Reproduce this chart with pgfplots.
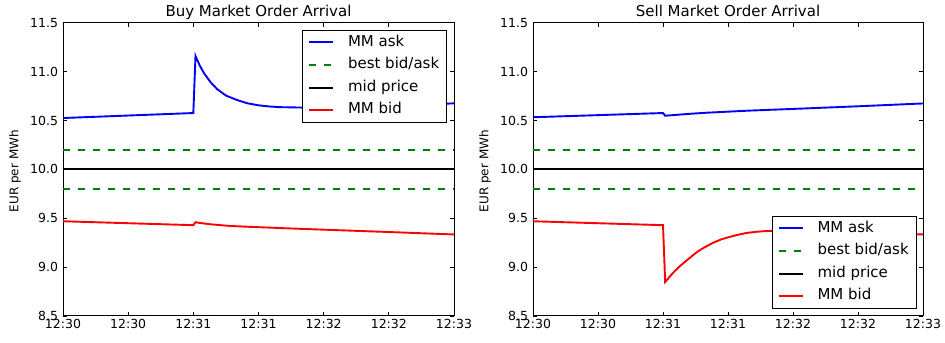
\documentclass[border=0pt]{standalone}
\usepackage{pgfplots}
\pgfplotsset{compat=1.18}
\usepackage{fontspec}
\setmainfont{DejaVu Sans}
\definecolor{mplblue}{rgb}{0,0,1}
\definecolor{mplgreen}{rgb}{0,0.5,0}
\definecolor{mplred}{rgb}{1,0,0}
\begin{document}
\begin{tikzpicture}
\path[use as bounding box] (0,0) rectangle (945bp,343bp);
\pgfplotsset{
  ln/.style={line width=1.9bp},
  myaxis/.style={
    scale only axis, width=391bp, height=293.3bp, anchor=south west,
    xmin=0, xmax=180, ymin=8.5, ymax=11.5,
    xtick={0,30,...,180},
    xticklabels={12:30,12:30,12:31,12:31,12:32,12:32,12:33},
    ytick={8.5,9,9.5,10,10.5,11,11.5},
    /pgf/number format/fixed,
    /pgf/number format/fixed zerofill,
    /pgf/number format/precision=1,
    /pgf/number format/assume math mode=true,
    tick align=inside, major tick length=4bp,
    tick style={black, line width=0.8bp},
    axis line style={line width=1bp},
    ticklabel style={font=\fontsize{12.5bp}{14bp}\selectfont},
    yticklabel style={xshift=-1.5bp},
    title style={font=\fontsize{15bp}{17bp}\selectfont, at={(axis description cs:0.5,1)}, anchor=base},
    legend cell align=left,
    legend style={font=\fontsize{15bp}{17bp}\selectfont, draw=black, line width=1bp, fill=white,
      inner xsep=5.3bp, inner ysep=3bp, row sep=4.1bp,
      nodes={inner sep=2bp, text height=11bp, text depth=3.5bp}},
    legend image code/.code={\draw[##1] (0bp,0bp) -- (24bp,0bp); \path[draw=none] (24bp,0bp) -- (37bp,0bp);},
    clip=false,
  }
}
\begin{axis}[myaxis, at={(63bp,27bp)}, title={Buy Market Order Arrival},
  legend style={at={(1,1)}, anchor=north east, xshift=-7bp, yshift=-7bp}]
\addplot[mplblue, ln] coordinates {
(0,10.525) (60,10.576) (61,11.16) (63,11.06) (65,10.98) (68,10.89) (71,10.82)
(75,10.755) (80,10.71) (85,10.675) (90,10.655) (95,10.643) (100,10.636)
(110,10.632) (120,10.634) (135,10.641) (150,10.651) (165,10.662) (180,10.675)};
\addlegendentry{MM ask}
\addplot[mplgreen, ln, dash pattern=on 7bp off 8bp] coordinates {(0,10.2) (180,10.2)};
\addlegendentry{best bid/ask}
\addplot[black, ln] coordinates {(0,10.0) (180,10.0)};
\addlegendentry{mid price}
\addplot[mplred, ln] coordinates {
(0,9.469) (60,9.429) (61,9.459) (63,9.452) (65,9.446) (68,9.438) (72,9.430)
(77,9.421) (85,9.413) (95,9.404) (110,9.391) (130,9.375) (150,9.359) (180,9.334)};
\addlegendentry{MM bid}
\addplot[mplgreen, ln, dash pattern=on 7bp off 8bp, forget plot] coordinates {(0,9.8) (180,9.8)};
\node[rotate=90, anchor=center, inner sep=0pt, font=\fontsize{12bp}{14bp}\selectfont] at (rel axis cs:-0.1228,0.494) {EUR per MWh};
\end{axis}
\begin{axis}[myaxis, at={(533bp,27bp)}, width=390bp, title={Sell Market Order Arrival},
  legend style={at={(1,0)}, anchor=south east, xshift=-6.5bp, yshift=7bp}]
\addplot[mplblue, ln] coordinates {
(0,10.533) (60,10.576) (61,10.548) (63,10.552) (66,10.557) (70,10.564) (75,10.572)
(80,10.579) (90,10.590) (100,10.601) (120,10.618) (150,10.645) (180,10.674)};
\addlegendentry{MM ask}
\addplot[mplgreen, ln, dash pattern=on 7bp off 8bp] coordinates {(0,10.2) (180,10.2)};
\addlegendentry{best bid/ask}
\addplot[black, ln] coordinates {(0,10.0) (180,10.0)};
\addlegendentry{mid price}
\addplot[mplred, ln] coordinates {
(0,9.469) (60,9.429) (61,8.847) (63,8.90) (65,8.95) (67.8,9.01) (71,9.07)
(75.7,9.155) (79,9.20) (83.1,9.249) (87,9.285) (90.9,9.31) (95,9.333) (98.8,9.350)
(103,9.361) (106.2,9.367) (112,9.372) (120,9.372) (135,9.365) (150,9.355)
(165,9.345) (180,9.334)};
\addlegendentry{MM bid}
\addplot[mplgreen, ln, dash pattern=on 7bp off 8bp, forget plot] coordinates {(0,9.8) (180,9.8)};
\node[rotate=90, anchor=center, inner sep=0pt, font=\fontsize{12bp}{14bp}\selectfont] at (rel axis cs:-0.1231,0.494) {EUR per MWh};
\end{axis}
\end{tikzpicture}
\end{document}
